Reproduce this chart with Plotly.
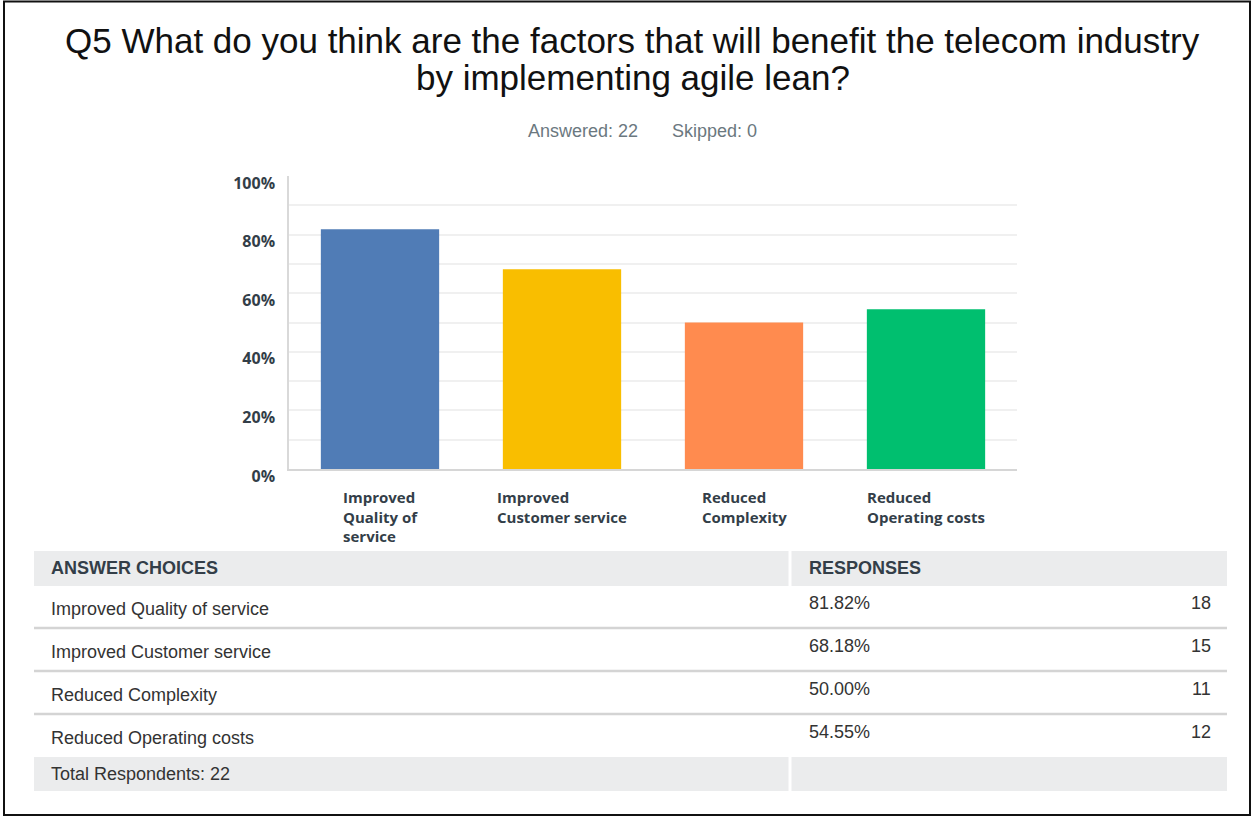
import plotly.graph_objects as go

# ---------------- data ----------------
choices = ["Improved Quality of service", "Improved Customer service",
           "Reduced Complexity", "Reduced Operating costs"]
axis_labels = ["Improved<br>Quality of<br>service", "Improved<br>Customer service",
               "Reduced<br>Complexity", "Reduced<br>Operating costs"]
percent = [81.82, 68.18, 50.00, 54.55]
counts = [18, 15, 11, 12]
total_respondents = 22
answered = 22
skipped = 0
bar_colors = ["#507cb6", "#f9be00", "#ff8b4f", "#00bf6f"]
y_ticks = [0, 20, 40, 60, 80, 100]
title_lines = ["Q5 What do you think are the factors that will benefit the telecom industry",
               "by implementing agile lean?"]

W, H = 1255, 818


def px(x):
    return x / W


def py(y):
    return 1 - y / H


fig = go.Figure()
fig.add_trace(go.Bar(
    x=choices, y=percent, marker=dict(color=bar_colors, line=dict(width=0)),
    width=0.65, hoverinfo="x+y", showlegend=False,
))

TXT = "#333e48"
BOLDFONT = "Open Sans, Lato, sans-serif"
fig.update_layout(
    width=W, height=H, autosize=False,
    margin=dict(l=0, r=0, t=0, b=0, pad=0, autoexpand=False),
    paper_bgcolor="white", plot_bgcolor="white",
    font=dict(family="Liberation Sans, Arial, sans-serif", color=TXT),
    xaxis=dict(domain=[px(289), px(1017)], showticklabels=False, showgrid=False,
               showline=True, linecolor="#d6d6d6", linewidth=1.5, ticks="",
               zeroline=False, fixedrange=True, automargin=False),
    yaxis=dict(domain=[py(469), py(176)], range=[0, 100],
               tickvals=list(range(0, 101, 10)),
               ticktext=[f"{v}%" if v in y_ticks else "" for v in range(0, 101, 10)],
               showgrid=True, gridcolor="#f0f0f0", gridwidth=1.5,
               showline=True, linecolor="#d9d9d9", linewidth=1.5,
               zeroline=False, ticks="", ticklabelstandoff=9, ticklabelshift=7,
               tickfont=dict(family=BOLDFONT, size=16, color=TXT, weight="bold"),
               fixedrange=True, automargin=False),
)

annotations = []
# title
for line, yc in zip(title_lines, [40, 78]):
    annotations.append(dict(
        text=line, x=px(633), y=py(yc), xref="paper", yref="paper", xanchor="center", yanchor="middle",
        showarrow=False, font=dict(family="Liberation Sans, Arial, sans-serif", size=35, color="#111111"),
    ))
annotations.append(dict(text=f"Answered: {answered}", x=px(640), y=py(131), xref="paper", yref="paper",
                        xanchor="right", yanchor="middle", showarrow=False,
                        font=dict(size=18, color="#6b787f")))
annotations.append(dict(text=f"Skipped: {skipped}", x=px(670), y=py(131), xref="paper", yref="paper",
                        xanchor="left", yanchor="middle", showarrow=False,
                        font=dict(size=18, color="#6b787f")))

# x category labels
for c, lab in zip(choices, axis_labels):
    annotations.append(dict(text=lab, x=c, xref="x", y=py(485), yref="paper",
                            xanchor="center", yanchor="top", align="left", showarrow=False,
                            font=dict(family=BOLDFONT, size=15, color=TXT, weight="bold")))

shapes = []
# figure border
shapes.append(dict(type="rect", xref="paper", yref="paper", x0=px(4), x1=px(1250), y0=py(1.5), y1=py(815),
                   line=dict(color="#111111", width=2), fillcolor="rgba(0,0,0,0)", layer="above"))

# table
TL, TR, CD = 34, 1227, 790
GRAY = "#ebeced"
header_top, header_bot = 551, 586
row_h = 43
row_tops = [586 + i * row_h for i in range(len(choices))]
total_top, total_bot = 757, 791

shapes.append(dict(type="rect", xref="paper", yref="paper", x0=px(TL), x1=px(TR),
                   y0=py(header_top), y1=py(header_bot), fillcolor=GRAY, line=dict(width=0)))
shapes.append(dict(type="rect", xref="paper", yref="paper", x0=px(TL), x1=px(TR),
                   y0=py(total_top), y1=py(total_bot), fillcolor=GRAY, line=dict(width=0)))
for yy0, yy1 in [(header_top, header_bot), (total_top, total_bot)]:
    shapes.append(dict(type="line", xref="paper", yref="paper", x0=px(CD), x1=px(CD),
                       y0=py(yy0), y1=py(yy1), line=dict(color="white", width=3)))
for i in range(1, len(choices)):
    ysep = row_tops[i] - 1
    shapes.append(dict(type="line", xref="paper", yref="paper", x0=px(TL), x1=px(TR),
                       y0=py(ysep), y1=py(ysep), line=dict(color="#d4d4d4", width=2.5)))

annotations.append(dict(text="<b>ANSWER CHOICES</b>", x=px(49), y=py(568), xref="paper", yref="paper",
                        xanchor="left", yanchor="middle", showarrow=False, font=dict(size=18, color=TXT)))
annotations.append(dict(text="<b>RESPONSES</b>", x=px(807), y=py(568), xref="paper", yref="paper",
                        xanchor="left", yanchor="middle", showarrow=False, font=dict(size=18, color=TXT)))
for top, name, p, n in zip(row_tops, choices, percent, counts):
    annotations.append(dict(text=name, x=px(49), y=py(top + 23), xref="paper", yref="paper",
                            xanchor="left", yanchor="middle", showarrow=False,
                            font=dict(size=18, color="#333333")))
    annotations.append(dict(text=f"{p:.2f}%", x=px(807), y=py(top + 17), xref="paper", yref="paper",
                            xanchor="left", yanchor="middle", showarrow=False,
                            font=dict(size=18, color="#333333")))
    annotations.append(dict(text=str(n), x=px(1213), y=py(top + 17), xref="paper", yref="paper",
                            xanchor="right", yanchor="middle", showarrow=False,
                            font=dict(size=18, color="#333333")))
annotations.append(dict(text=f"Total Respondents: {total_respondents}", x=px(49), y=py(774),
                        xref="paper", yref="paper", xanchor="left", yanchor="middle", showarrow=False,
                        font=dict(size=18, color="#333333")))

fig.update_layout(annotations=annotations, shapes=shapes)
post = ("document.documentElement.style.margin='0';document.body.style.margin='0';"
        "document.documentElement.style.overflow='hidden';document.body.style.overflow='hidden';"
        "var gd=document.getElementById('{plot_id}');gd.style.position='fixed';"
        "gd.style.top='0px';gd.style.left='0px';")
fig.write_html("out.html", config={"displayModeBar": False}, post_script=post)
